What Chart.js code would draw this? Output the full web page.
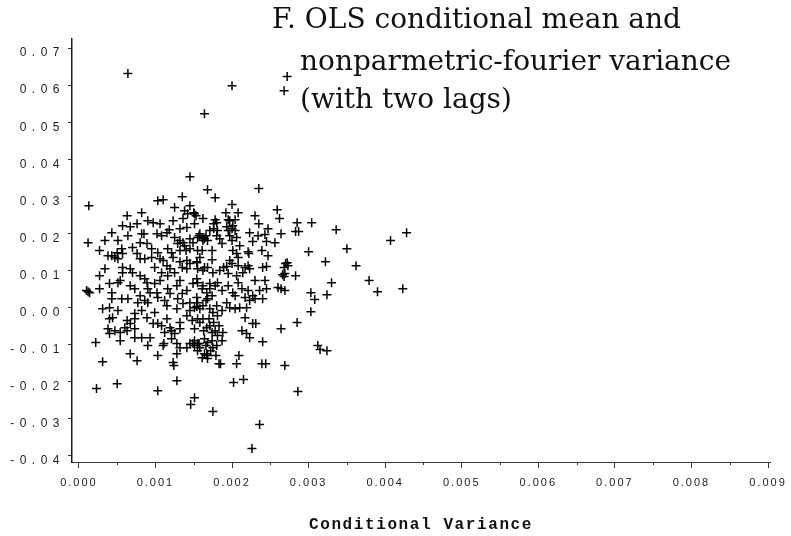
<!DOCTYPE html>
<html>
<head>
<meta charset="utf-8">
<script src="https://cdn.jsdelivr.net/npm/chart.js@4/dist/chart.umd.min.js"></script>
<style>
  html, body { margin: 0; padding: 0; background: #ffffff; }
  #wrap { width: 791px; height: 536px; position: relative; }
</style>
</head>
<body>
<div id="wrap"><canvas id="chart" width="791" height="536"></canvas></div>
<script>
// Panel heading, one entry per printed line
const titleLines = [
  'F. OLS conditional mean and',
  'nonparmetric-fourier variance',
  '(with two lags)'
];

const xAxisTitle = 'Conditional Variance';

// Axis ticks
const xTickValues = [0, 0.001, 0.002, 0.003, 0.004, 0.005, 0.006, 0.007, 0.008, 0.009];
const xTickLabels = ['0.000', '0.001', '0.002', '0.003', '0.004', '0.005', '0.006', '0.007', '0.008', '0.009'];
const xMinorValues = [0.0005, 0.0015, 0.0025, 0.0035, 0.0045, 0.0055, 0.0065, 0.0075, 0.0085];
const yTickValues = [-0.04, -0.03, -0.02, -0.01, 0, 0.01, 0.02, 0.03, 0.04, 0.05, 0.06, 0.07];
const yTickLabels = ['-0.04', '-0.03', '-0.02', '-0.01', '0.00', '0.01', '0.02', '0.03', '0.04', '0.05', '0.06', '0.07'];

// [conditional variance, conditional mean] pairs
const upperTail = [
  [0.00064, 0.0631], [0.00200, 0.0598], [0.00164, 0.0523], [0.00272, 0.0623], [0.00268, 0.0585],
  [0.00145, 0.0353], [0.00168, 0.0318], [0.00178, 0.0296], [0.00200, 0.0278], [0.00235, 0.0321],
  [0.00013, 0.0275], [0.00012, 0.0175], [0.00135, 0.0299], [0.00125, 0.0270], [0.00103, 0.0288],
  [0.00110, 0.0291]
];

const rightTail = [
  [0.00259, 0.0264], [0.00262, 0.0240], [0.00235, 0.0226], [0.00285, 0.0229], [0.00283, 0.0205],
  [0.00287, 0.0205], [0.00304, 0.0229], [0.00336, 0.0210], [0.00264, 0.0199], [0.00428, 0.0202],
  [0.00407, 0.0181], [0.00300, 0.0151], [0.00350, 0.0159], [0.00322, 0.0124], [0.00362, 0.0113],
  [0.00270, 0.0119], [0.00272, 0.0121], [0.00266, 0.0089], [0.00268, 0.0084], [0.00283, 0.0086],
  [0.00330, 0.0067], [0.00379, 0.0073], [0.00390, 0.0043], [0.00423, 0.0051], [0.00260, 0.0054],
  [0.00264, 0.0051], [0.00303, 0.0040], [0.00308, 0.0022], [0.00324, 0.0035], [0.00303, -0.0011],
  [0.00285, -0.0040], [0.00264, -0.0057], [0.00312, -0.0102], [0.00315, -0.0113], [0.00324, -0.0116],
  [0.00269, -0.0156], [0.00239, -0.0151], [0.00244, -0.0151], [0.00240, -0.0092], [0.00227, -0.0043],
  [0.00231, -0.0043], [0.00273, 0.0113], [0.00268, 0.0108], [0.00269, 0.0092], [0.00269, 0.0046]
];

const lowerTail = [
  [0.00226, -0.0380], [0.00236, -0.0315], [0.00175, -0.0280], [0.00151, -0.0243], [0.00146, -0.0261],
  [0.00103, -0.0224], [0.00128, -0.0197], [0.00202, -0.0202], [0.00215, -0.0194], [0.00286, -0.0226],
  [0.00023, -0.0218], [0.00050, -0.0205], [0.00031, -0.0146], [0.00076, -0.0143], [0.00067, -0.0124],
  [0.00022, -0.0094], [0.00103, -0.0129], [0.00124, -0.0156], [0.00128, -0.0124], [0.00183, -0.0151],
  [0.00185, -0.0151], [0.00209, -0.0129], [0.00206, -0.0151], [0.00167, -0.0124], [0.00168, -0.0137],
  [0.00149, -0.0097], [0.00157, -0.0097], [0.00111, -0.0097], [0.00123, -0.0148], [0.00155, -0.0116],
  [0.00161, -0.0135], [0.00164, -0.0124], [0.00168, -0.0129]
];

const coreUpper = [
  [0.00082, 0.0256], [0.00063, 0.0248], [0.00142, 0.0253], [0.00150, 0.0256], [0.00057, 0.0221],
  [0.00067, 0.0218], [0.00076, 0.0226], [0.00090, 0.0234], [0.00097, 0.0229], [0.00106, 0.0226],
  [0.00123, 0.0234], [0.00118, 0.0210], [0.00132, 0.0213], [0.00141, 0.0216], [0.00151, 0.0226],
  [0.00082, 0.0199], [0.00085, 0.0199], [0.00064, 0.0194], [0.00102, 0.0199], [0.00108, 0.0194],
  [0.00115, 0.0202], [0.00125, 0.0189], [0.00132, 0.0181], [0.00136, 0.0175], [0.00145, 0.0186],
  [0.00149, 0.0175], [0.00155, 0.0189], [0.00155, 0.0154], [0.00080, 0.0175], [0.00089, 0.0173],
  [0.00070, 0.0162], [0.00056, 0.0159], [0.00057, 0.0146], [0.00095, 0.0159], [0.00103, 0.0148],
  [0.00116, 0.0159], [0.00121, 0.0148], [0.00132, 0.0154], [0.00140, 0.0154], [0.00145, 0.0159],
  [0.00043, 0.0140], [0.00047, 0.0135], [0.00051, 0.0132], [0.00076, 0.0146], [0.00080, 0.0132],
  [0.00086, 0.0132], [0.00095, 0.0135], [0.00106, 0.0132], [0.00110, 0.0127], [0.00123, 0.0135],
  [0.00132, 0.0124], [0.00141, 0.0127], [0.00145, 0.0119], [0.00154, 0.0124], [0.00034, 0.0105],
  [0.00057, 0.0108], [0.00067, 0.0105], [0.00099, 0.0108], [0.00115, 0.0113], [0.00119, 0.0105],
  [0.00135, 0.0108], [0.00141, 0.0105], [0.00050, 0.0148], [0.00038, 0.0140],
  [0.00162, 0.0240], [0.00178, 0.0237], [0.00180, 0.0229], [0.00176, 0.0226], [0.00151, 0.0253],
  [0.00195, 0.0237], [0.00204, 0.0237], [0.00193, 0.0218], [0.00201, 0.0221], [0.00234, 0.0194],
  [0.00243, 0.0197], [0.00195, 0.0208], [0.00204, 0.0208], [0.00197, 0.0194], [0.00206, 0.0189],
  [0.00181, 0.0208], [0.00180, 0.0194], [0.00158, 0.0199], [0.00161, 0.0189], [0.00164, 0.0186],
  [0.00168, 0.0181], [0.00187, 0.0173], [0.00227, 0.0178], [0.00245, 0.0178], [0.00256, 0.0175],
  [0.00239, 0.0154], [0.00221, 0.0151], [0.00222, 0.0146], [0.00201, 0.0154], [0.00206, 0.0146],
  [0.00174, 0.0154], [0.00161, 0.0154], [0.00247, 0.0140], [0.00208, 0.0135], [0.00197, 0.0127],
  [0.00200, 0.0119], [0.00174, 0.0129], [0.00158, 0.0135], [0.00154, 0.0121], [0.00245, 0.0111],
  [0.00240, 0.0108], [0.00221, 0.0113], [0.00217, 0.0108], [0.00208, 0.0113], [0.00193, 0.0111],
  [0.00189, 0.0108], [0.00168, 0.0108], [0.00164, 0.0108], [0.00157, 0.0194], [0.00162, 0.0181],
  [0.00166, 0.0194], [0.00129, 0.0173], [0.00138, 0.0167], [0.00197, 0.0234], [0.00200, 0.0213],
  [0.00171, 0.0208], [0.00176, 0.0213], [0.00184, 0.0186]
];

const coreLower = [
  [0.00057, 0.0094], [0.00070, 0.0094], [0.00080, 0.0086], [0.00067, 0.0059], [0.00073, 0.0051],
  [0.00089, 0.0067], [0.00090, 0.0051], [0.00108, 0.0094], [0.00116, 0.0086], [0.00099, 0.0065],
  [0.00102, 0.0040], [0.00103, 0.0027], [0.00116, 0.0051], [0.00119, 0.0038], [0.00132, 0.0073],
  [0.00128, 0.0059], [0.00135, 0.0038], [0.00141, 0.0046], [0.00149, 0.0065], [0.00154, 0.0078],
  [0.00010, 0.0046], [0.00014, 0.0040], [0.00027, 0.0051], [0.00040, 0.0065], [0.00043, 0.0040],
  [0.00051, 0.0067], [0.00054, 0.0073], [0.00043, 0.0024], [0.00056, 0.0024], [0.00064, 0.0024],
  [0.00077, 0.0013], [0.00086, 0.0019], [0.00090, 0.0013], [0.00112, 0.0019], [0.00115, 0.0005],
  [0.00129, 0.0024], [0.00128, -0.0003], [0.00136, 0.0011], [0.00145, 0.0013], [0.00151, 0.0000],
  [0.00154, 0.0027], [0.00031, -0.0003], [0.00040, 0.0000], [0.00044, -0.0027], [0.00063, -0.0035],
  [0.00060, -0.0054], [0.00067, -0.0043], [0.00073, -0.0016], [0.00073, -0.0030], [0.00073, -0.0057],
  [0.00073, -0.0081], [0.00089, -0.0027], [0.00097, -0.0043], [0.00103, -0.0043], [0.00108, -0.0049],
  [0.00115, -0.0030], [0.00119, -0.0054], [0.00121, -0.0062], [0.00112, -0.0067], [0.00125, -0.0070],
  [0.00132, -0.0040], [0.00132, -0.0057], [0.00141, -0.0022], [0.00145, -0.0008], [0.00154, 0.0003],
  [0.00148, -0.0035], [0.00151, -0.0057], [0.00155, -0.0030], [0.00038, -0.0057], [0.00040, -0.0070],
  [0.00054, -0.0067], [0.00063, -0.0062], [0.00082, -0.0081], [0.00093, -0.0081], [0.00090, -0.0102],
  [0.00110, -0.0102], [0.00121, -0.0084], [0.00128, -0.0097], [0.00132, -0.0108], [0.00141, -0.0108],
  [0.00145, -0.0097], [0.00151, -0.0102], [0.00151, -0.0089],
  [0.00155, 0.0105], [0.00162, 0.0100], [0.00175, 0.0094], [0.00184, 0.0100], [0.00195, 0.0092],
  [0.00206, 0.0086], [0.00214, 0.0094], [0.00223, 0.0105], [0.00243, 0.0073], [0.00245, 0.0051],
  [0.00240, 0.0024], [0.00155, 0.0067], [0.00162, 0.0059], [0.00161, 0.0051], [0.00167, 0.0040],
  [0.00171, 0.0051], [0.00178, 0.0059], [0.00181, 0.0067], [0.00187, 0.0046], [0.00195, 0.0059],
  [0.00201, 0.0040], [0.00208, 0.0067], [0.00213, 0.0051], [0.00217, 0.0027], [0.00221, 0.0046],
  [0.00227, 0.0032], [0.00193, 0.0013], [0.00197, 0.0000], [0.00204, -0.0003], [0.00210, 0.0000],
  [0.00219, 0.0000], [0.00223, 0.0019], [0.00230, 0.0024], [0.00155, 0.0013], [0.00158, -0.0003],
  [0.00162, 0.0005], [0.00168, 0.0024], [0.00171, -0.0003], [0.00175, -0.0013], [0.00180, 0.0005],
  [0.00181, -0.0022], [0.00187, -0.0008], [0.00158, -0.0040], [0.00162, -0.0030], [0.00167, -0.0054],
  [0.00171, -0.0049], [0.00174, -0.0067], [0.00178, -0.0062], [0.00181, -0.0075], [0.00188, -0.0067],
  [0.00164, -0.0084], [0.00168, -0.0094], [0.00174, -0.0089], [0.00175, -0.0108], [0.00180, -0.0102],
  [0.00187, -0.0089], [0.00155, -0.0097], [0.00158, -0.0108], [0.00217, -0.0027], [0.00213, -0.0062],
  [0.00219, -0.0070], [0.00223, -0.0081], [0.00012, 0.0043], [0.00027, 0.0086], [0.00040, -0.0030],
  [0.00047, -0.0062]
];

const coreFill = [
  [0.00166, 0.0019], [0.00174, 0.0032], [0.00170, -0.0030], [0.00176, -0.0040], [0.00166, -0.0102],
  [0.00172, -0.0116], [0.00179, -0.0129], [0.00163, -0.0062], [0.00183, -0.0049], [0.00171, 0.0065],
  [0.00138, 0.0261], [0.00145, 0.0275], [0.00153, 0.0248], [0.00136, 0.0240], [0.00192, 0.0256],
  [0.00208, 0.0256], [0.00200, 0.0181], [0.00210, 0.0167], [0.00086, 0.0078], [0.00106, 0.0073],
  [0.00093, 0.0040], [0.00080, 0.0032], [0.00125, 0.0094], [0.00034, 0.0181], [0.00043, 0.0202],
  [0.00027, 0.0154], [0.00051, 0.0181], [0.00230, 0.0248], [0.00247, 0.0213], [0.00223, 0.0202],
  [0.00051, -0.0008], [0.00082, -0.0008], [0.00099, -0.0013], [0.00054, -0.0089], [0.00230, 0.0073],
  [0.00236, 0.0046], [0.00204, 0.0032]
];

const points = [...upperTail, ...rightTail, ...lowerTail, ...coreUpper, ...coreLower, ...coreFill]
  .map(([x, y]) => ({ x, y }));

// Chart.js has no letter-spacing option, so the scale's text routines are wrapped
function spaceScaleText(scale, labelSpacing, titleSpacing) {
  if (scale.$spaced) return;
  scale.$spaced = true;
  const drawLabels = scale.drawLabels.bind(scale);
  scale.drawLabels = function (area) {
    const c = this.ctx; c.save(); c.letterSpacing = labelSpacing; drawLabels(area); c.restore();
  };
  const drawTitle = scale.drawTitle.bind(scale);
  scale.drawTitle = function (area) {
    const c = this.ctx; c.save(); c.letterSpacing = titleSpacing; drawTitle(area); c.restore();
  };
}

// Multi-line serif heading set inside the upper right of the plot
const headingPlugin = {
  id: 'heading',
  afterDraw(chart, args, opts) {
    const ctx = chart.ctx;
    ctx.save();
    ctx.fillStyle = opts.color;
    ctx.font = opts.font;
    ctx.textAlign = 'left';
    ctx.textBaseline = 'alphabetic';
    titleLines.forEach((text, i) => {
      const p = opts.positions[i];
      ctx.fillText(text, p[0], p[1]);
    });
    ctx.restore();
  }
};

// Short half-step ticks under the x axis
const minorTickPlugin = {
  id: 'minorTicks',
  afterDraw(chart, args, opts) {
    const sx = chart.scales.x;
    const ctx = chart.ctx;
    const base = chart.chartArea.bottom;
    ctx.save();
    ctx.strokeStyle = opts.color;
    ctx.lineWidth = 1;
    xMinorValues.forEach((v) => {
      const px = Math.round(sx.getPixelForValue(v)) + 0.5;
      ctx.beginPath();
      ctx.moveTo(px, base);
      ctx.lineTo(px, base + opts.length);
      ctx.stroke();
    });
    ctx.restore();
  }
};

new Chart(document.getElementById('chart'), {
  type: 'scatter',
  data: {
    datasets: [{
      data: points,
      pointStyle: 'cross',
      pointRadius: 4.5,
      pointHoverRadius: 4.5,
      borderColor: '#050505',
      backgroundColor: '#050505',
      borderWidth: 1.5
    }]
  },
  plugins: [headingPlugin, minorTickPlugin],
  options: {
    responsive: false,
    devicePixelRatio: 1,
    animation: false,
    layout: { padding: { top: 39, right: 21, left: 0, bottom: 0 } },
    plugins: {
      legend: { display: false },
      tooltip: { enabled: false },
      heading: {
        color: '#111111',
        font: '28px "DejaVu Serif"',
        positions: [[272, 28], [300, 70], [300, 108]]
      },
      minorTicks: { color: '#333333', length: 3 }
    },
    scales: {
      x: {
        type: 'linear',
        min: -0.00009,
        max: 0.009026,
        afterBuildTicks: (scale) => { scale.ticks = xTickValues.map((v) => ({ value: v })); },
        afterFit: (scale) => { scale.height = 74; spaceScaleText(scale, '2px', '1.6px'); },
        grid: { drawOnChartArea: false, drawTicks: true, tickLength: 6, color: '#333333', tickWidth: 1 },
        border: { display: true, color: '#3a3a3a', width: 1 },
        ticks: {
          autoSkip: false,
          maxRotation: 0,
          padding: 8,
          color: '#222222',
          font: { family: '"Liberation Sans", Arial, sans-serif', size: 11 },
          callback: (value, index) => xTickLabels[index]
        },
        title: {
          display: true,
          text: xAxisTitle,
          color: '#111111',
          font: { family: '"Liberation Mono", "Courier New", monospace', size: 16, weight: 'bold' },
          padding: { top: 0, bottom: 1 }
        }
      },
      y: {
        type: 'linear',
        min: -0.04162,
        max: 0.07243,
        afterBuildTicks: (scale) => { scale.ticks = yTickValues.map((v) => ({ value: v })); },
        afterFit: (scale) => { scale.width = 72; spaceScaleText(scale, '5.5px', '0px'); },
        grid: { drawOnChartArea: false, drawTicks: true, tickLength: 4, color: '#333333', tickWidth: 1 },
        border: { display: true, color: '#1e1e1e', width: 1.5 },
        ticks: {
          autoSkip: false,
          padding: 3,
          labelOffset: 5,
          color: '#222222',
          font: { family: '"Liberation Sans", Arial, sans-serif', size: 12 },
          callback: (value, index) => yTickLabels[index]
        }
      }
    }
  }
});
</script>
</body>
</html>
